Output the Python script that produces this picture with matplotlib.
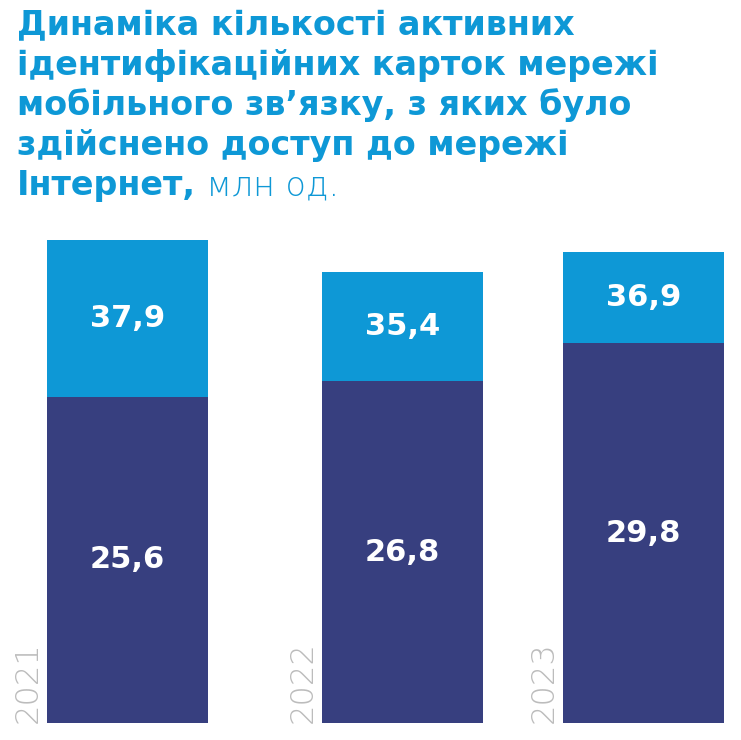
import matplotlib.pyplot as plt

years = ['2021', '2022', '2023']
internet = [25.6, 26.8, 29.8]   # dark part
total = [37.9, 35.4, 36.9]      # full bar height
rest = [t - i for t, i in zip(total, internet)]

title_lines = ['Динаміка кількості активних',
               'ідентифікаційних карток мережі',
               'мобільного зв’язку, з яких було',
               'здійснено доступ до мережі']
title_last = 'Інтернет,'
title_unit = ' млн од.'

blue = '#0e98d6'
navy = '#373f7f'
grey = '#bcbcbc'

W, H = 741, 740
fig = plt.figure(figsize=(W / 100, H / 100), dpi=100)

# layout: bar centres in pixels
bar_x = [127.2, 402.2, 643.2]
bar_w = 161
ymax = 38.0
px_per_unit = 12.76

ax = fig.add_axes([0, 16.7 / H, 1, ymax * px_per_unit / H])
ax.set_xlim(0, W)
ax.set_ylim(0, ymax)
ax.axis('off')

ax.bar(bar_x, internet, width=bar_w, color=navy)
ax.bar(bar_x, rest, width=bar_w, bottom=internet, color=blue)

for x, i, t, y in zip(bar_x, internet, total, years):
    ax.text(x, i / 2, f'{i:.1f}'.replace('.', ','), ha='center', va='center',
            color='white', fontsize=22, fontweight='bold')
    ax.text(x, (i + t) / 2, f'{t:.1f}'.replace('.', ','), ha='center', va='center',
            color='white', fontsize=22, fontweight='bold')
    ax.text(x - bar_w / 2 - 4, 0, y, rotation=90, ha='right', va='bottom',
            color=grey, fontsize=23, fontweight='light')

# title, scaled so the first line is as wide as in the original
x0 = 17 / W
pitch = 40
base0 = 35
fs = 22
probe = fig.text(0, 0, title_lines[0], fontsize=fs, fontweight='bold')
fig.canvas.draw()
fs = fs * 556 / probe.get_window_extent().width
probe.remove()

for k, line in enumerate(title_lines):
    fig.text(x0, 1 - (base0 + k * pitch) / H, line, color=blue, fontsize=fs,
             fontweight='bold', va='baseline')
t = fig.text(x0, 1 - (base0 + 4 * pitch) / H, title_last, color=blue, fontsize=fs,
             fontweight='bold', va='baseline')
fig.canvas.draw()
bb = t.get_window_extent()
fig.text(bb.x1 / W, 1 - (base0 + 4 * pitch) / H, title_unit, color=blue,
         fontsize=fs, fontweight='light', va='baseline')

fig.savefig('out.png', dpi=100)
